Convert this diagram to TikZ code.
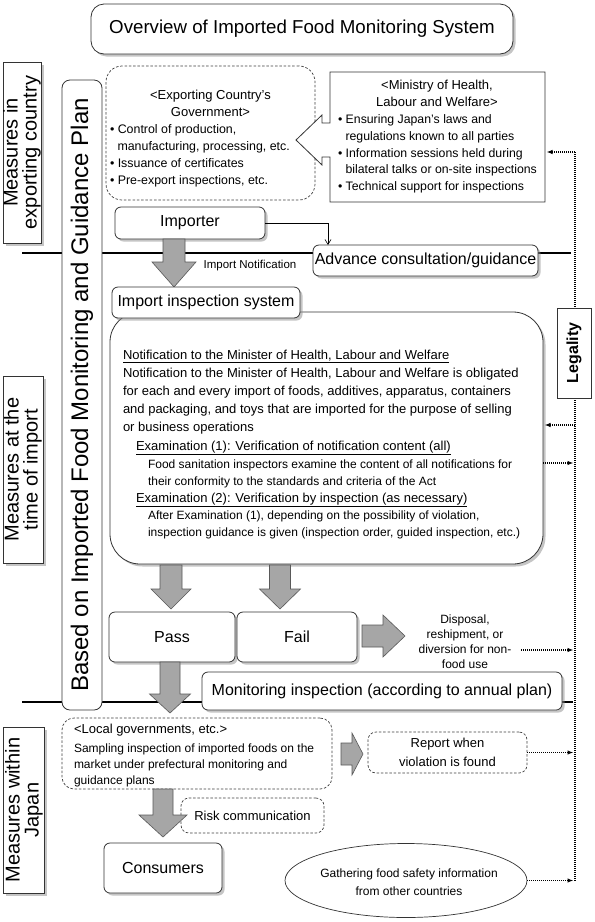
\documentclass[tikz,border=0pt]{standalone}
\usepackage{fontspec}
\setmainfont{Liberation Sans}
\usetikzlibrary{shadows,arrows.meta,shapes.geometric}
\newcommand\fsz[2]{\fontsize{#1}{#2}\selectfont}
\newcommand\blockdown[6]{\draw[garrow] (#1-#5,#2) -- (#1+#5,#2) -- (#1+#5,#3) -- (#1+#6,#3) -- (#1,#4) -- (#1-#6,#3) -- (#1-#5,#3) -- cycle;}
\newcommand\blockright[6]{\draw[garrow] (#2,#1-#5) -- (#3,#1-#5) -- (#3,#1-#6) -- (#4,#1) -- (#3,#1+#6) -- (#3,#1+#5) -- (#2,#1+#5) -- cycle;}
\begin{document}
\begin{tikzpicture}[x=1pt,y=-1pt,
  every node/.style={inner sep=0pt, outer sep=0pt},
  shad/.style={drop shadow={shadow xshift=2.5pt,shadow yshift=-2.5pt,fill=black!45}},
  rbox/.style={draw=black!80, line width=0.8pt, fill=white, rounded corners=6pt, shad},
  sqbox/.style={draw=black!80, line width=0.8pt, fill=white, shad},
  dbox/.style={draw=black!75, line width=0.7pt, dash pattern=on 2.5pt off 1.8pt, rounded corners=10pt, fill=white},
  garrow/.style={fill=black!35, draw=black!65, line width=0.6pt, line join=miter},
  dotl/.style={line width=1.2pt, dash pattern=on 1pt off 1pt},
  dota/.style={dotl, shorten >=1.5pt, -{Latex[length=6pt,width=4.5pt]}},
  t13/.style={font=\fsz{13}{18}},
  t12/.style={font=\fsz{12}{17}},
  t16/.style={font=\fsz{16}{19}},
  lbl/.style={font=\fsz{20}{19}, align=center, rotate=90}
]
\useasboundingbox (0,0) rectangle (595,922);
\fill[white] (0,0) rectangle (595,922);

% separators
\coordinate (s1a) at (22,253); \coordinate (s1b) at (571,253);
\coordinate (s2a) at (22,702); \coordinate (s2b) at (573,702);
\draw[line width=2.6pt] (s1a) -- (s1b);
\draw[line width=2.6pt] (s2a) -- (s2b);

% legality line
\coordinate (vtop) at (575,152); \coordinate (vbot) at (575,880.5);
\draw[dotl] (vtop) -- (vbot);

% title
\node[rbox, rounded corners=13pt, minimum width=422, minimum height=50, font=\fsz{18.7}{22}] (title) at (302,29) {Overview of Imported Food Monitoring System};

% left labels
\node[sqbox, minimum width=38, minimum height=181] (lex) at (22,152.5) {};
\node[lbl] (lext) at (lex.center) {Measures in\\exporting country};
\node[sqbox, minimum width=40, minimum height=187] (ltm) at (23,469.5) {};
\node[lbl] (ltmt) at (ltm.center) {Measures at the\\time of import};
\node[sqbox, minimum width=41, minimum height=166] (ljp) at (24,810) {};
\node[lbl] (ljpt) at (ljp.center) {Measures within\\Japan};

% plan
\node[draw=black!80, line width=0.8pt, fill=white, rounded corners=8pt, minimum width=40, minimum height=630] (plan) at (82,395) {};
\node[font=\fsz{24}{26}, rotate=90] (plant) at (plan.center) {Based on Imported Food Monitoring and Guidance Plan};

% exporting government
\node[dbox, rounded corners=16pt, minimum width=209, minimum height=134] (gov) at (210.5,133) {};
\node[font=\fsz{13}{17}, align=center] (govt) at (210.5,103.5) {<Exporting Country's\\Government>};
\node[font=\fsz{12.4}{16.7}, align=left, anchor=north west] (govb) at (110,125) {• Control of production,\\\hspace*{7.5pt}manufacturing, processing, etc.\\• Issuance of certificates\\• Pre-export inspections, etc.};

% ministry callout
\node[minimum width=215, minimum height=130] (min) at (437.5,137) {};
\draw[draw=black!80, line width=0.8pt, fill=white] (330,72) -- (545,72) -- (545,202) -- (330,202) -- (330,157) -- (322,157) -- (322,165) -- (296,140) -- (322,115) -- (322,123) -- (330,123) -- cycle;
\node[font=\fsz{13}{17}, align=center] (mint) at (437,93) {<Ministry of Health,\\Labour and Welfare>};
\node[font=\fsz{12.3}{16.8}, align=left, anchor=north west] (minb) at (338,114.5) {• Ensuring Japan’s laws and\\\hspace*{7.5pt}regulations known to all parties\\• Information sessions held during\\\hspace*{7.5pt}bilateral talks or on-site inspections\\• Technical support for inspections};
\draw[dota] (vtop) -- (vtop -| min.east);

% importer
\node[rbox, minimum width=150, minimum height=32, t16] (imp) at (190,223) {Importer};
\node[rbox, minimum width=225, minimum height=31, t16] (adv) at (425.5,260.5) {Advance consultation/guidance};
\draw[line width=0.6pt, -{Straight Barb[length=5pt,width=6pt]}] (imp.east) -| ([xshift=15pt]adv.north west);

\blockdown{174}{239}{262}{287}{11}{22}
\node[font=\fsz{11.5}{13}] (note) at (250,266) {Import Notification};

% big box
\node[draw=black!80, line width=0.8pt, fill=white, rounded corners=30pt, shad, minimum width=433, minimum height=252] (big) at (326.5,438) {};
\node[rbox, minimum width=188, minimum height=31, t16] (iis) at (206,302.5) {Import inspection system};

\node[t13, anchor=base west] (b1) at (123,359.5) {\underline{Notification to the Minister of Health, Labour and Welfare}};
\node[t13, anchor=base west] (b2) at (123,377.5) {Notification to the Minister of Health, Labour and Welfare is obligated};
\node[t13, anchor=base west] (b3) at (123,395.5) {for each and every import of foods, additives, apparatus, containers};
\node[t13, anchor=base west] (b4) at (123,413.5) {and packaging, and toys that are imported for the purpose of selling};
\node[t13, anchor=base west] (b5) at (123,431.5) {or business operations};
\node[t13, anchor=base west] (b6) at (136,450.5) {\underline{Examination (1): Verification of notification content (all)}};
\node[t12, anchor=base west] (b7) at (148,468) {Food sanitation inspectors examine the content of all notifications for};
\node[t12, anchor=base west] (b8) at (148,485) {their conformity to the standards and criteria of the Act};
\node[t13, anchor=base west] (b9) at (136,502.5) {\underline{Examination (2): Verification by inspection (as necessary)}};
\node[t12, anchor=base west] (b10) at (148,519) {After Examination (1), depending on the possibility of violation,};
\node[t12, anchor=base west] (b11) at (148,536) {inspection guidance is given (inspection order, guided inspection, etc.)};

% legality
\node[draw=black!80, line width=0.8pt, fill=white, minimum width=34, minimum height=90] (leg) at (574,353) {};
\node[font=\bfseries\fsz{16}{18}, rotate=90] (legt) at (leg.center) {Legality};
\coordinate (r1) at (575,425); \draw[dota] (r1) -- (r1 -| big.east);
\coordinate (r2) at (575,463); \draw[dota] (r2 -| big.east) -- (r2);

% pass / fail
\blockdown{171}{565}{589}{609}{11}{20}
\blockdown{280}{565}{589}{609}{10.5}{20.5}
\node[rbox, minimum width=126, minimum height=50, t16] (pass) at (172,637) {Pass};
\node[rbox, minimum width=120, minimum height=50, t16] (fail) at (297,637) {Fail};
\blockright{636}{362}{383}{405}{11}{21}
\node[font=\fsz{12}{15}, align=center] (disp) at (465,642) {Disposal,\\reshipment, or\\diversion for non-\\food use};
\coordinate (d1) at (521,650); \draw[dota] (d1) -- (d1 -| vtop);

\blockdown{170}{662}{694}{713}{10}{20.5}
\node[rbox, minimum width=360, minimum height=38, t16] (mon) at (382,691) {Monitoring inspection (according to annual plan)};

% within Japan
\node[dbox, rounded corners=12pt, minimum width=270, minimum height=71] (loc) at (197,753.5) {};
\node[font=\fsz{13}{16}, anchor=west] (loch) at (74,730) {<Local governments, etc.>};
\node[font=\fsz{12}{16}, align=left, anchor=north west] (locb) at (74,743.5) {Sampling inspection of imported foods on the\\market under prefectural monitoring and\\guidance plans};
\blockright{754}{341}{352}{363}{11}{21}
\node[dbox, rounded corners=8pt, minimum width=159, minimum height=41, font=\fsz{13}{19.5}, align=center] (rep) at (447.5,752.5) {Report when\\violation is found};
\draw[dota] (rep.east) -- (rep.east -| vtop);

\node[dbox, rounded corners=8pt, minimum width=143, minimum height=35, font=\fsz{13}{16}] (risk) at (252.5,815.5) {Risk communication};
\blockdown{163}{789}{815}{837}{10}{24}
\node[rbox, minimum width=118, minimum height=50, t16] (cons) at (163,868) {Consumers};

\node[draw=black!80, line width=0.7pt, ellipse, minimum width=242, minimum height=74, fill=white] (ell) at (406,880.5) {};
\node[font=\fsz{12}{18}, align=center] (ellt) at (409,882) {Gathering food safety information\\from other countries};
\draw[dota] (ell.east) -- (ell.east -| vtop);
\end{tikzpicture}
\end{document}
